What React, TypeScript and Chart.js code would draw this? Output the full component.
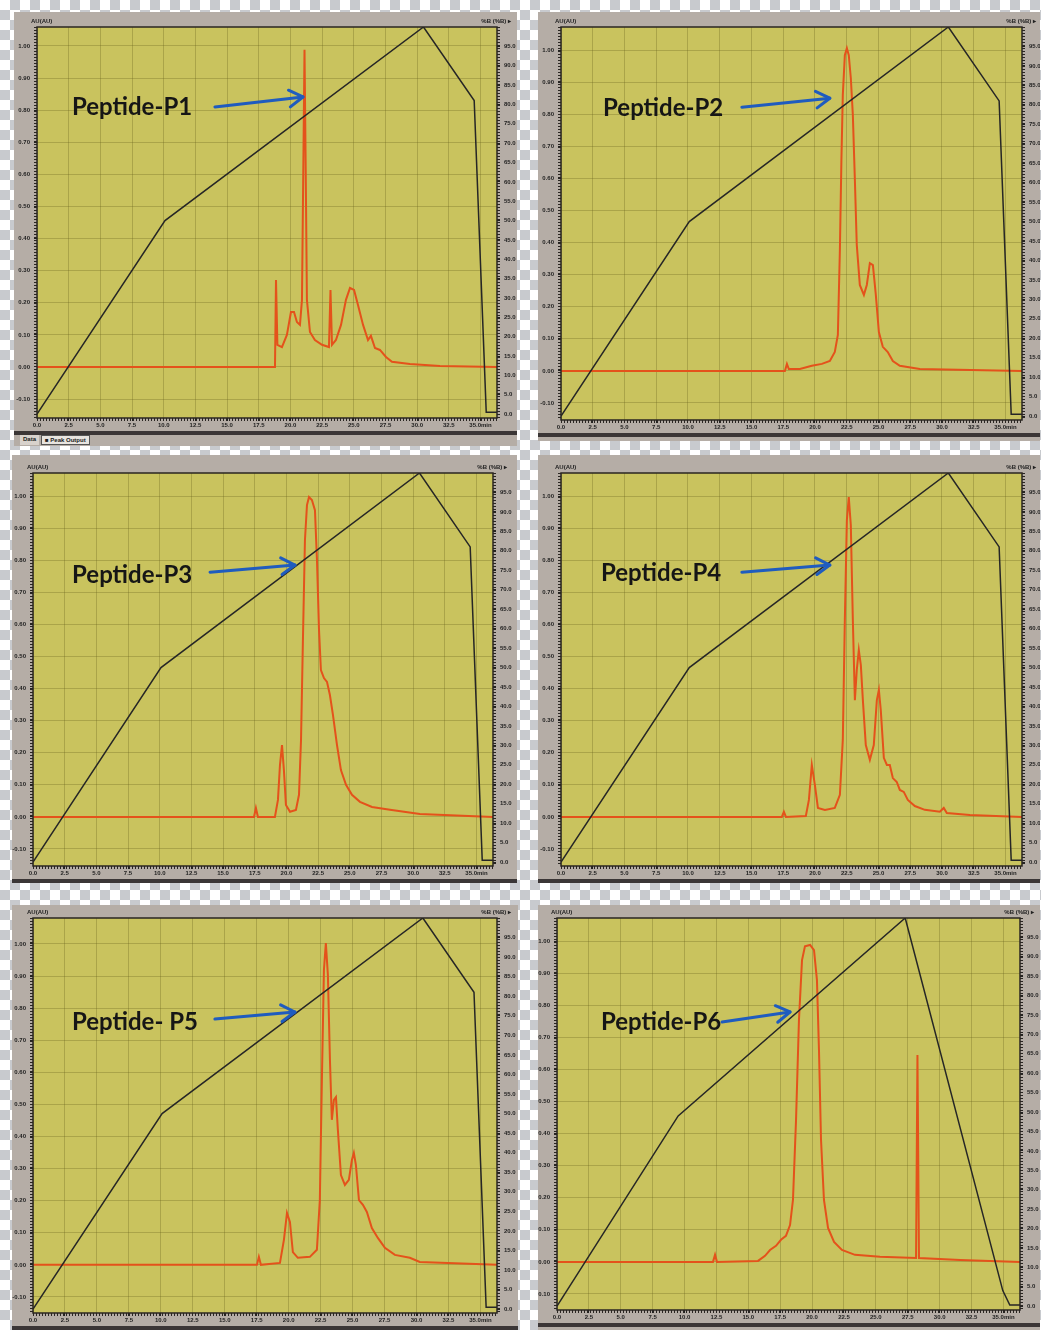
import React, { useEffect, useRef } from "react";
import { Chart, registerables } from "chart.js";

Chart.register(...registerables);

// ---------- tick labels ----------
const xTickValues = [0, 2.5, 5, 7.5, 10, 12.5, 15, 17.5, 20, 22.5, 25, 27.5, 30, 32.5, 35];
const xTickLabels = ["0.0", "2.5", "5.0", "7.5", "10.0", "12.5", "15.0", "17.5", "20.0", "22.5", "25.0", "27.5", "30.0", "32.5", "35.0min"];
const auTickValues = [-0.1, 0, 0.1, 0.2, 0.3, 0.4, 0.5, 0.6, 0.7, 0.8, 0.9, 1.0];
const auTickLabels = ["-0.10", "0.00", "0.10", "0.20", "0.30", "0.40", "0.50", "0.60", "0.70", "0.80", "0.90", "1.00"];
const bTickValues = [0, 5, 10, 15, 20, 25, 30, 35, 40, 45, 50, 55, 60, 65, 70, 75, 80, 85, 90, 95];
const bTickLabels = ["0.0", "5.0", "10.0", "15.0", "20.0", "25.0", "30.0", "35.0", "40.0", "45.0", "50.0", "55.0", "60.0", "65.0", "70.0", "75.0", "80.0", "85.0", "90.0", "95.0"];

// ---------- gradient programme (%B) ----------
const gradTime = [0, 10.1, 30.5, 34.5, 35.45, 36.3];
const gradB = [0, 50, 100, 81, 0.5, 0.5];
const gradTimeP6 = [0, 9.5, 27.3, 34.95, 35.5, 36.3];
const gradBP6 = [0, 49, 100, 4, 0.3, 0.3];

// ---------- chromatograms (time min, absorbance AU) ----------
const p1Time = [0, 18.78, 18.86, 18.97, 19.33, 19.72, 20.04, 20.28, 20.51, 20.75, 20.91, 21.03, 21.11, 21.19, 21.3, 21.54, 21.93, 22.49, 23.04, 23.16, 23.28, 23.59, 23.99, 24.38, 24.7, 25.02, 25.33, 25.73, 26.12, 26.35, 26.67, 27.06, 27.54, 28.01, 29.43, 31.8, 36.3];
const p1Abs = [0, 0, 0.271, 0.069, 0.062, 0.1, 0.171, 0.171, 0.14, 0.131, 0.209, 0.676, 0.988, 0.676, 0.209, 0.109, 0.084, 0.069, 0.062, 0.24, 0.069, 0.084, 0.131, 0.209, 0.246, 0.24, 0.193, 0.131, 0.084, 0.097, 0.059, 0.053, 0.031, 0.016, 0.009, 0.003, 0];

const p2Time = [0, 17.63, 17.79, 17.94, 18.81, 19.75, 20.54, 21.17, 21.56, 21.8, 21.96, 22.08, 22.19, 22.35, 22.51, 22.66, 22.82, 22.98, 23.14, 23.29, 23.53, 23.85, 24.08, 24.32, 24.56, 24.79, 25.03, 25.34, 25.73, 26.13, 26.68, 28.25, 36.3];
const p2Abs = [0, 0, 0.022, 0.006, 0.006, 0.016, 0.022, 0.031, 0.059, 0.112, 0.377, 0.657, 0.86, 0.984, 1.006, 0.984, 0.913, 0.798, 0.595, 0.393, 0.268, 0.237, 0.268, 0.336, 0.33, 0.237, 0.121, 0.075, 0.059, 0.031, 0.016, 0.006, 0];

const p3Time = [0, 17.44, 17.59, 17.75, 19.09, 19.33, 19.49, 19.65, 19.8, 19.96, 20.28, 20.75, 20.99, 21.15, 21.3, 21.46, 21.62, 21.78, 22.01, 22.25, 22.41, 22.57, 22.72, 22.96, 23.2, 23.43, 23.67, 23.99, 24.3, 24.7, 25.17, 25.8, 26.75, 28.17, 30.53, 36.3];
const p3Abs = [0, 0, 0.028, 0, 0, 0.053, 0.162, 0.224, 0.146, 0.037, 0.016, 0.022, 0.069, 0.24, 0.551, 0.863, 0.972, 0.997, 0.988, 0.956, 0.8, 0.583, 0.458, 0.433, 0.421, 0.38, 0.318, 0.224, 0.146, 0.1, 0.069, 0.047, 0.031, 0.022, 0.009, 0];

const p4Time = [0, 17.39, 17.55, 17.71, 19.28, 19.52, 19.75, 19.99, 20.23, 20.78, 21.56, 21.96, 22.19, 22.35, 22.51, 22.66, 22.82, 22.98, 23.14, 23.29, 23.45, 23.61, 23.77, 24.0, 24.32, 24.63, 24.87, 25.03, 25.18, 25.42, 25.66, 25.89, 26.13, 26.44, 26.68, 26.99, 27.31, 27.86, 28.65, 29.83, 30.14, 30.38, 32.19, 36.3];
const p4Abs = [0, 0, 0.016, 0, 0.003, 0.053, 0.162, 0.1, 0.028, 0.022, 0.028, 0.069, 0.24, 0.614, 0.925, 0.997, 0.91, 0.614, 0.364, 0.458, 0.52, 0.473, 0.364, 0.224, 0.178, 0.224, 0.364, 0.396, 0.333, 0.184, 0.162, 0.162, 0.121, 0.109, 0.084, 0.078, 0.053, 0.034, 0.022, 0.016, 0.028, 0.012, 0.006, 0];

const p5Time = [0, 17.52, 17.67, 17.83, 19.32, 19.63, 19.87, 20.1, 20.33, 20.72, 21.66, 22.21, 22.44, 22.6, 22.76, 22.91, 23.07, 23.23, 23.38, 23.54, 23.7, 23.85, 24.09, 24.4, 24.71, 24.95, 25.1, 25.26, 25.5, 25.81, 26.12, 26.51, 26.98, 27.53, 28.31, 29.48, 30.26, 36.3];
const p5Abs = [0, 0, 0.025, 0, 0.006, 0.078, 0.162, 0.134, 0.04, 0.022, 0.025, 0.047, 0.202, 0.576, 0.919, 1.003, 0.903, 0.639, 0.452, 0.514, 0.523, 0.421, 0.28, 0.249, 0.265, 0.327, 0.349, 0.312, 0.202, 0.187, 0.165, 0.115, 0.084, 0.053, 0.031, 0.022, 0.009, 0];

const p6Time = [0, 12.23, 12.39, 12.54, 15.76, 16.31, 16.7, 17.17, 17.56, 17.95, 18.27, 18.5, 18.74, 18.97, 19.21, 19.44, 19.84, 20.15, 20.38, 20.54, 20.7, 20.93, 21.25, 21.72, 22.34, 23.36, 25.32, 28.15, 28.26, 28.38, 31.6, 36.3];
const p6Abs = [0, 0, 0.022, 0, 0.003, 0.019, 0.037, 0.05, 0.069, 0.081, 0.115, 0.193, 0.442, 0.754, 0.941, 0.984, 0.988, 0.972, 0.879, 0.66, 0.38, 0.193, 0.106, 0.062, 0.037, 0.022, 0.016, 0.012, 0.645, 0.012, 0.006, 0];

// ---------- labels / arrows (data coordinates: [min, AU]) ----------
const peptideLabels = ["Peptide-P1", "Peptide-P2", "Peptide-P3", "Peptide-P4", "Peptide- P5", "Peptide-P6"];
const labelAt = [[2.76, 0.81], [3.31, 0.819], [3.08, 0.754], [3.15, 0.76], [3.05, 0.757], [3.45, 0.748]];
const arrowFrom = [[14.04, 0.81], [14.24, 0.822], [13.97, 0.763], [14.24, 0.763], [14.23, 0.766], [12.94, 0.748]];
const arrowTo = [[20.99, 0.841], [21.17, 0.85], [20.67, 0.785], [21.17, 0.785], [20.49, 0.788], [18.27, 0.779]];

// ---------- layout (page pixels) ----------
const layouts = [
  { frame: [14, 12, 517, 446], plot: [37, 27, 497, 418], yMin: -0.159, yMax: 1.059, tabs: true },
  { frame: [538, 12, 1040, 441], plot: [561, 27, 1022, 420], yMin: -0.153, yMax: 1.072, tabs: false },
  { frame: [12, 455, 517, 882], plot: [33, 473, 493, 866], yMin: -0.153, yMax: 1.072, tabs: false },
  { frame: [538, 455, 1040, 882], plot: [561, 473, 1022, 866], yMin: -0.153, yMax: 1.072, tabs: false },
  { frame: [12, 905, 518, 1330], plot: [33, 918, 497, 1313], yMin: -0.15, yMax: 1.081, tabs: false },
  { frame: [538, 905, 1040, 1330], plot: [557, 918, 1020, 1310], yMin: -0.15, yMax: 1.072, tabs: false },
];

const traces = [
  [p1Time, p1Abs, gradTime, gradB],
  [p2Time, p2Abs, gradTime, gradB],
  [p3Time, p3Abs, gradTime, gradB],
  [p4Time, p4Abs, gradTime, gradB],
  [p5Time, p5Abs, gradTime, gradB],
  [p6Time, p6Abs, gradTimeP6, gradBP6],
];

const PLOT_BG = "#c9c35e";
const FRAME_BG = "#b5ada6";
const GRID = "rgba(105,100,30,0.32)";
const RED = "#e4521b";
const BLACK = "#262626";
const ARROW = "#1f5cbf";

const decoPlugin = {
  id: "panelDeco",
  beforeDraw(chart: any) {
    const { ctx, chartArea: a } = chart;
    ctx.save();
    ctx.fillStyle = PLOT_BG;
    ctx.fillRect(a.left, a.top, a.right - a.left, a.bottom - a.top);
    ctx.restore();
  },
  afterDraw(chart: any, _args: any, opts: any) {
    const { ctx, chartArea: a } = chart;
    ctx.save();
    ctx.strokeStyle = "#2a2622";
    ctx.lineWidth = 1.5;
    ctx.strokeRect(a.left, a.top, a.right - a.left, a.bottom - a.top);
    ctx.setLineDash([1, 2]);
    ctx.lineWidth = 3;
    ctx.beginPath();
    ctx.moveTo(a.left - 1.5, a.top);
    ctx.lineTo(a.left - 1.5, a.bottom);
    ctx.moveTo(a.right + 1.5, a.top);
    ctx.lineTo(a.right + 1.5, a.bottom);
    ctx.moveTo(a.left, a.bottom + 1.5);
    ctx.lineTo(a.right, a.bottom + 1.5);
    ctx.stroke();
    ctx.setLineDash([]);

    const xs = chart.scales.x;
    const ys = chart.scales.y;
    const x1 = xs.getPixelForValue(opts.from[0]);
    const y1 = ys.getPixelForValue(opts.from[1]);
    const x2 = xs.getPixelForValue(opts.to[0]);
    const y2 = ys.getPixelForValue(opts.to[1]);
    ctx.strokeStyle = ARROW;
    ctx.lineWidth = 3;
    ctx.lineCap = "round";
    ctx.lineJoin = "round";
    ctx.beginPath();
    ctx.moveTo(x1, y1);
    ctx.lineTo(x2, y2);
    ctx.stroke();
    const ang = Math.atan2(y2 - y1, x2 - x1);
    const hl = 16;
    ctx.beginPath();
    ctx.moveTo(x2 - hl * Math.cos(ang - 0.55), y2 - hl * Math.sin(ang - 0.55));
    ctx.lineTo(x2, y2);
    ctx.lineTo(x2 - hl * Math.cos(ang + 0.55), y2 - hl * Math.sin(ang + 0.55));
    ctx.stroke();

    ctx.font = "bold 24px Lato";
    ctx.fillStyle = "#161616";
    ctx.textBaseline = "middle";
    ctx.textAlign = "left";
    ctx.fillText(opts.label, xs.getPixelForValue(opts.textAt[0]), ys.getPixelForValue(opts.textAt[1]));
    ctx.restore();
  },
};

const tickFont = { size: 6, weight: "bold" as const, family: "Liberation Sans" };

function Panel({ idx }: { idx: number }) {
  const ref = useRef<HTMLCanvasElement>(null);
  const lay = layouts[idx];
  const [fl, ft, fr, fb] = lay.frame;
  const [pl, pt, pr, pb] = lay.plot;
  const w = fr - fl;
  const h = fb - ft;
  const xAxisH = 12;

  useEffect(() => {
    const [time, abs, gT, gB] = traces[idx];
    const chart = new Chart(ref.current as HTMLCanvasElement, {
      type: "line",
      data: {
        datasets: [
          {
            label: "%B",
            data: gT.map((t: number, i: number) => ({ x: t, y: gB[i] })),
            yAxisID: "y2",
            borderColor: BLACK,
            borderWidth: 1.5,
            pointRadius: 0,
            tension: 0,
          },
          {
            label: "AU",
            data: time.map((t: number, i: number) => ({ x: t, y: abs[i] })),
            yAxisID: "y",
            borderColor: RED,
            borderWidth: 2,
            pointRadius: 0,
            tension: 0,
          },
        ],
      },
      options: {
        responsive: false,
        maintainAspectRatio: false,
        animation: false,
        devicePixelRatio: 1,
        layout: { padding: { left: 0, right: 0, top: pt - ft, bottom: fb - pb - xAxisH } },
        plugins: {
          legend: { display: false },
          tooltip: { enabled: false },
          panelDeco: {
            label: peptideLabels[idx],
            textAt: labelAt[idx],
            from: arrowFrom[idx],
            to: arrowTo[idx],
          },
        } as any,
        scales: {
          x: {
            type: "linear",
            min: 0,
            max: 36.3,
            afterBuildTicks: (s: any) => {
              s.ticks = xTickValues.map((v) => ({ value: v }));
            },
            afterFit: (s: any) => {
              s.height = xAxisH;
            },
            ticks: {
              font: tickFont,
              color: "#1e1e1e",
              padding: 1,
              maxRotation: 0,
              autoSkip: false,
              callback: (_v: any, i: number) => xTickLabels[i],
            },
            grid: { color: GRID, lineWidth: 1, tickLength: 3, tickColor: "#222" },
            border: { display: false },
          },
          y: {
            type: "linear",
            position: "left",
            min: lay.yMin,
            max: lay.yMax,
            afterBuildTicks: (s: any) => {
              s.ticks = auTickValues.map((v) => ({ value: v }));
            },
            afterFit: (s: any) => {
              s.width = pl - fl;
            },
            ticks: {
              font: tickFont,
              color: "#1e1e1e",
              padding: 4,
              autoSkip: false,
              callback: (_v: any, i: number) => auTickLabels[i],
            },
            grid: { color: GRID, lineWidth: 1, tickLength: 3, tickColor: "#222" },
            border: { display: false },
          },
          y2: {
            type: "linear",
            position: "right",
            min: -1,
            max: 100,
            afterBuildTicks: (s: any) => {
              s.ticks = bTickValues.map((v) => ({ value: v }));
            },
            afterFit: (s: any) => {
              s.width = fr - pr;
            },
            ticks: {
              font: tickFont,
              color: "#1e1e1e",
              padding: 4,
              autoSkip: false,
              callback: (_v: any, i: number) => bTickLabels[i],
            },
            grid: { display: true, drawOnChartArea: false, tickLength: 3, tickColor: "#222" },
            border: { display: false },
          },
        },
      } as any,
      plugins: [decoPlugin as any],
    });
    return () => chart.destroy();
  }, [idx]);

  const small: React.CSSProperties = {
    position: "absolute",
    fontFamily: "Liberation Sans, Arial, sans-serif",
    fontSize: 6,
    fontWeight: "bold",
    color: "#222",
    whiteSpace: "nowrap",
    lineHeight: "7px",
  };

  return (
    <div
      style={{
        position: "absolute",
        left: fl,
        top: ft,
        width: w,
        height: h,
        background: FRAME_BG,
      }}
    >
      <canvas ref={ref} width={w} height={h} style={{ position: "absolute", left: 0, top: 0, width: w, height: h }} />
      <div style={{ ...small, left: pl - fl - 6, top: pt - ft - 9 }}>AU(AU)</div>
      <div style={{ ...small, right: fr - pr - 14, top: pt - ft - 9 }}>%B (%B) ▸</div>
      <div
        style={{
          position: "absolute",
          left: 0,
          top: pb - ft + 13,
          width: w,
          height: 4,
          background: "#3b3636",
        }}
      />
      {lay.tabs ? (
        <div style={{ position: "absolute", left: 6, top: pb - ft + 17, height: 10, display: "flex", gap: 2 }}>
          <div style={{ ...small, position: "relative", background: "#d8d2cc", padding: "1px 3px" }}>Data</div>
          <div style={{ ...small, position: "relative", background: "#e8e4df", padding: "1px 3px", border: "1px solid #555" }}>■ Peak Output</div>
        </div>
      ) : null}
    </div>
  );
}

export default function App() {
  const checker = "#c8cace";
  return (
    <div
      style={{
        position: "absolute",
        left: 0,
        top: 0,
        width: 1041,
        height: 1330,
        overflow: "hidden",
        backgroundColor: "#ffffff",
        backgroundImage: `linear-gradient(45deg, ${checker} 25%, transparent 25%, transparent 75%, ${checker} 75%), linear-gradient(45deg, ${checker} 25%, transparent 25%, transparent 75%, ${checker} 75%)`,
        backgroundSize: "20px 20px",
        backgroundPosition: "0 0, 10px 10px",
      }}
    >
      {layouts.map((_, i) => (
        <Panel key={i} idx={i} />
      ))}
    </div>
  );
}
